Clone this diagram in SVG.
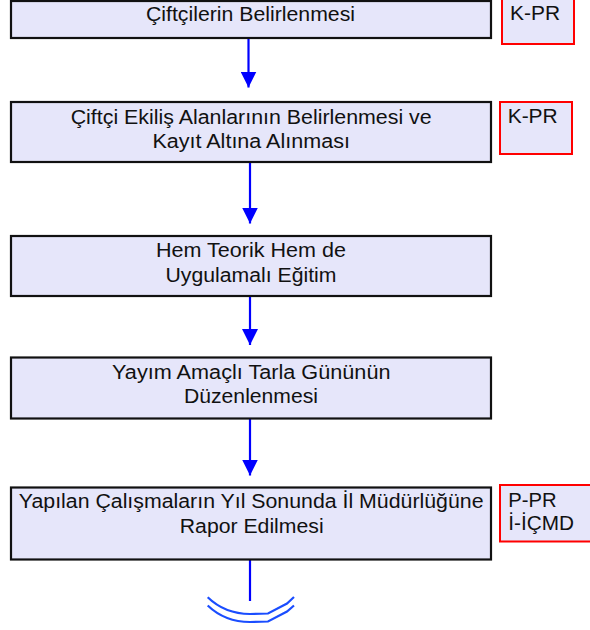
<svg xmlns="http://www.w3.org/2000/svg" width="590" height="630" viewBox="0 0 590 630">
<defs>
<marker id="ah" markerUnits="userSpaceOnUse" markerWidth="16" markerHeight="16" viewBox="0 0 16 16" refX="16" refY="8" orient="auto">
<path d="M0,0 L16,8 L0,16 Z" fill="#0000ff"/>
</marker>
<style>
.box{fill:#e6e6fa;stroke:#111;stroke-width:2.2}
.tag{fill:#e6e6fa;stroke:#ff0000;stroke-width:2}
text{font-family:"Liberation Sans",Arial,sans-serif;font-size:19.5px;fill:#111}
.conn{stroke:#0000ff;stroke-width:2.2;fill:none}
.curl{stroke:#1a4dff;stroke-width:2.2;fill:none}
</style>
</defs>
<rect width="590" height="630" fill="#fff"/>
<g id="connectors">
<line class="conn" x1="248.5" y1="39" x2="248.5" y2="87.5" marker-end="url(#ah)"/>
<line class="conn" x1="250" y1="163" x2="250" y2="223.5" marker-end="url(#ah)"/>
<line class="conn" x1="250" y1="297" x2="250" y2="345" marker-end="url(#ah)"/>
<line class="conn" x1="250" y1="419" x2="250" y2="475.5" marker-end="url(#ah)"/>
<line class="conn" x1="250" y1="560" x2="250" y2="601"/>
<path class="curl" d="M207.7,597.3 Q225,614 250,614 L268,613.5 L287,603.5 L294,597"/>
<path class="curl" d="M207.7,605.5 Q225,622 250,622 L268,621.5 L287,611.5 L294,605.5"/>
</g>
<g id="n1">
<rect class="box" x="11" y="1" width="480" height="37"/>
<text x="146" y="21" textLength="209" lengthAdjust="spacingAndGlyphs">Çiftçilerin Belirlenmesi</text>
</g>
<g id="t1">
<rect class="tag" x="502" y="-1" width="72" height="45"/>
<text x="510" y="20" textLength="50" lengthAdjust="spacingAndGlyphs">K-PR</text>
</g>
<g id="n2">
<rect class="box" x="11" y="102" width="480" height="60"/>
<text x="70.7" y="124" textLength="361" lengthAdjust="spacingAndGlyphs">Çiftçi Ekiliş Alanlarının Belirlenmesi ve</text>
<text x="152.4" y="148.3" textLength="197.5" lengthAdjust="spacingAndGlyphs">Kayıt Altına Alınması</text>
</g>
<g id="t2">
<rect class="tag" x="500" y="102" width="72" height="52"/>
<text x="507.7" y="122.7" textLength="50" lengthAdjust="spacingAndGlyphs">K-PR</text>
</g>
<g id="n3">
<rect class="box" x="11" y="236" width="480" height="60"/>
<text x="156" y="256.5" textLength="190" lengthAdjust="spacingAndGlyphs">Hem Teorik Hem de</text>
<text x="165.5" y="281.5" textLength="171" lengthAdjust="spacingAndGlyphs">Uygulamalı Eğitim</text>
</g>
<g id="n4">
<rect class="box" x="11" y="357.5" width="480" height="61"/>
<text x="112" y="379.3" textLength="278.5" lengthAdjust="spacingAndGlyphs">Yayım Amaçlı Tarla Gününün</text>
<text x="184" y="403.3" textLength="134" lengthAdjust="spacingAndGlyphs">Düzenlenmesi</text>
</g>
<g id="n5">
<rect class="box" x="11" y="487.5" width="480" height="72"/>
<text x="18.8" y="508.3" textLength="464.7" lengthAdjust="spacingAndGlyphs">Yapılan Çalışmaların Yıl Sonunda İl Müdürlüğüne</text>
<text x="179.8" y="533.3" textLength="143.8" lengthAdjust="spacingAndGlyphs">Rapor Edilmesi</text>
</g>
<g id="t5">
<rect class="tag" x="500" y="485" width="92" height="56.5"/>
<text x="508.3" y="506.7" textLength="48.3" lengthAdjust="spacingAndGlyphs">P-PR</text>
<text x="508.3" y="530" textLength="65.7" lengthAdjust="spacingAndGlyphs">İ-İÇMD</text>
</g>
</svg>
